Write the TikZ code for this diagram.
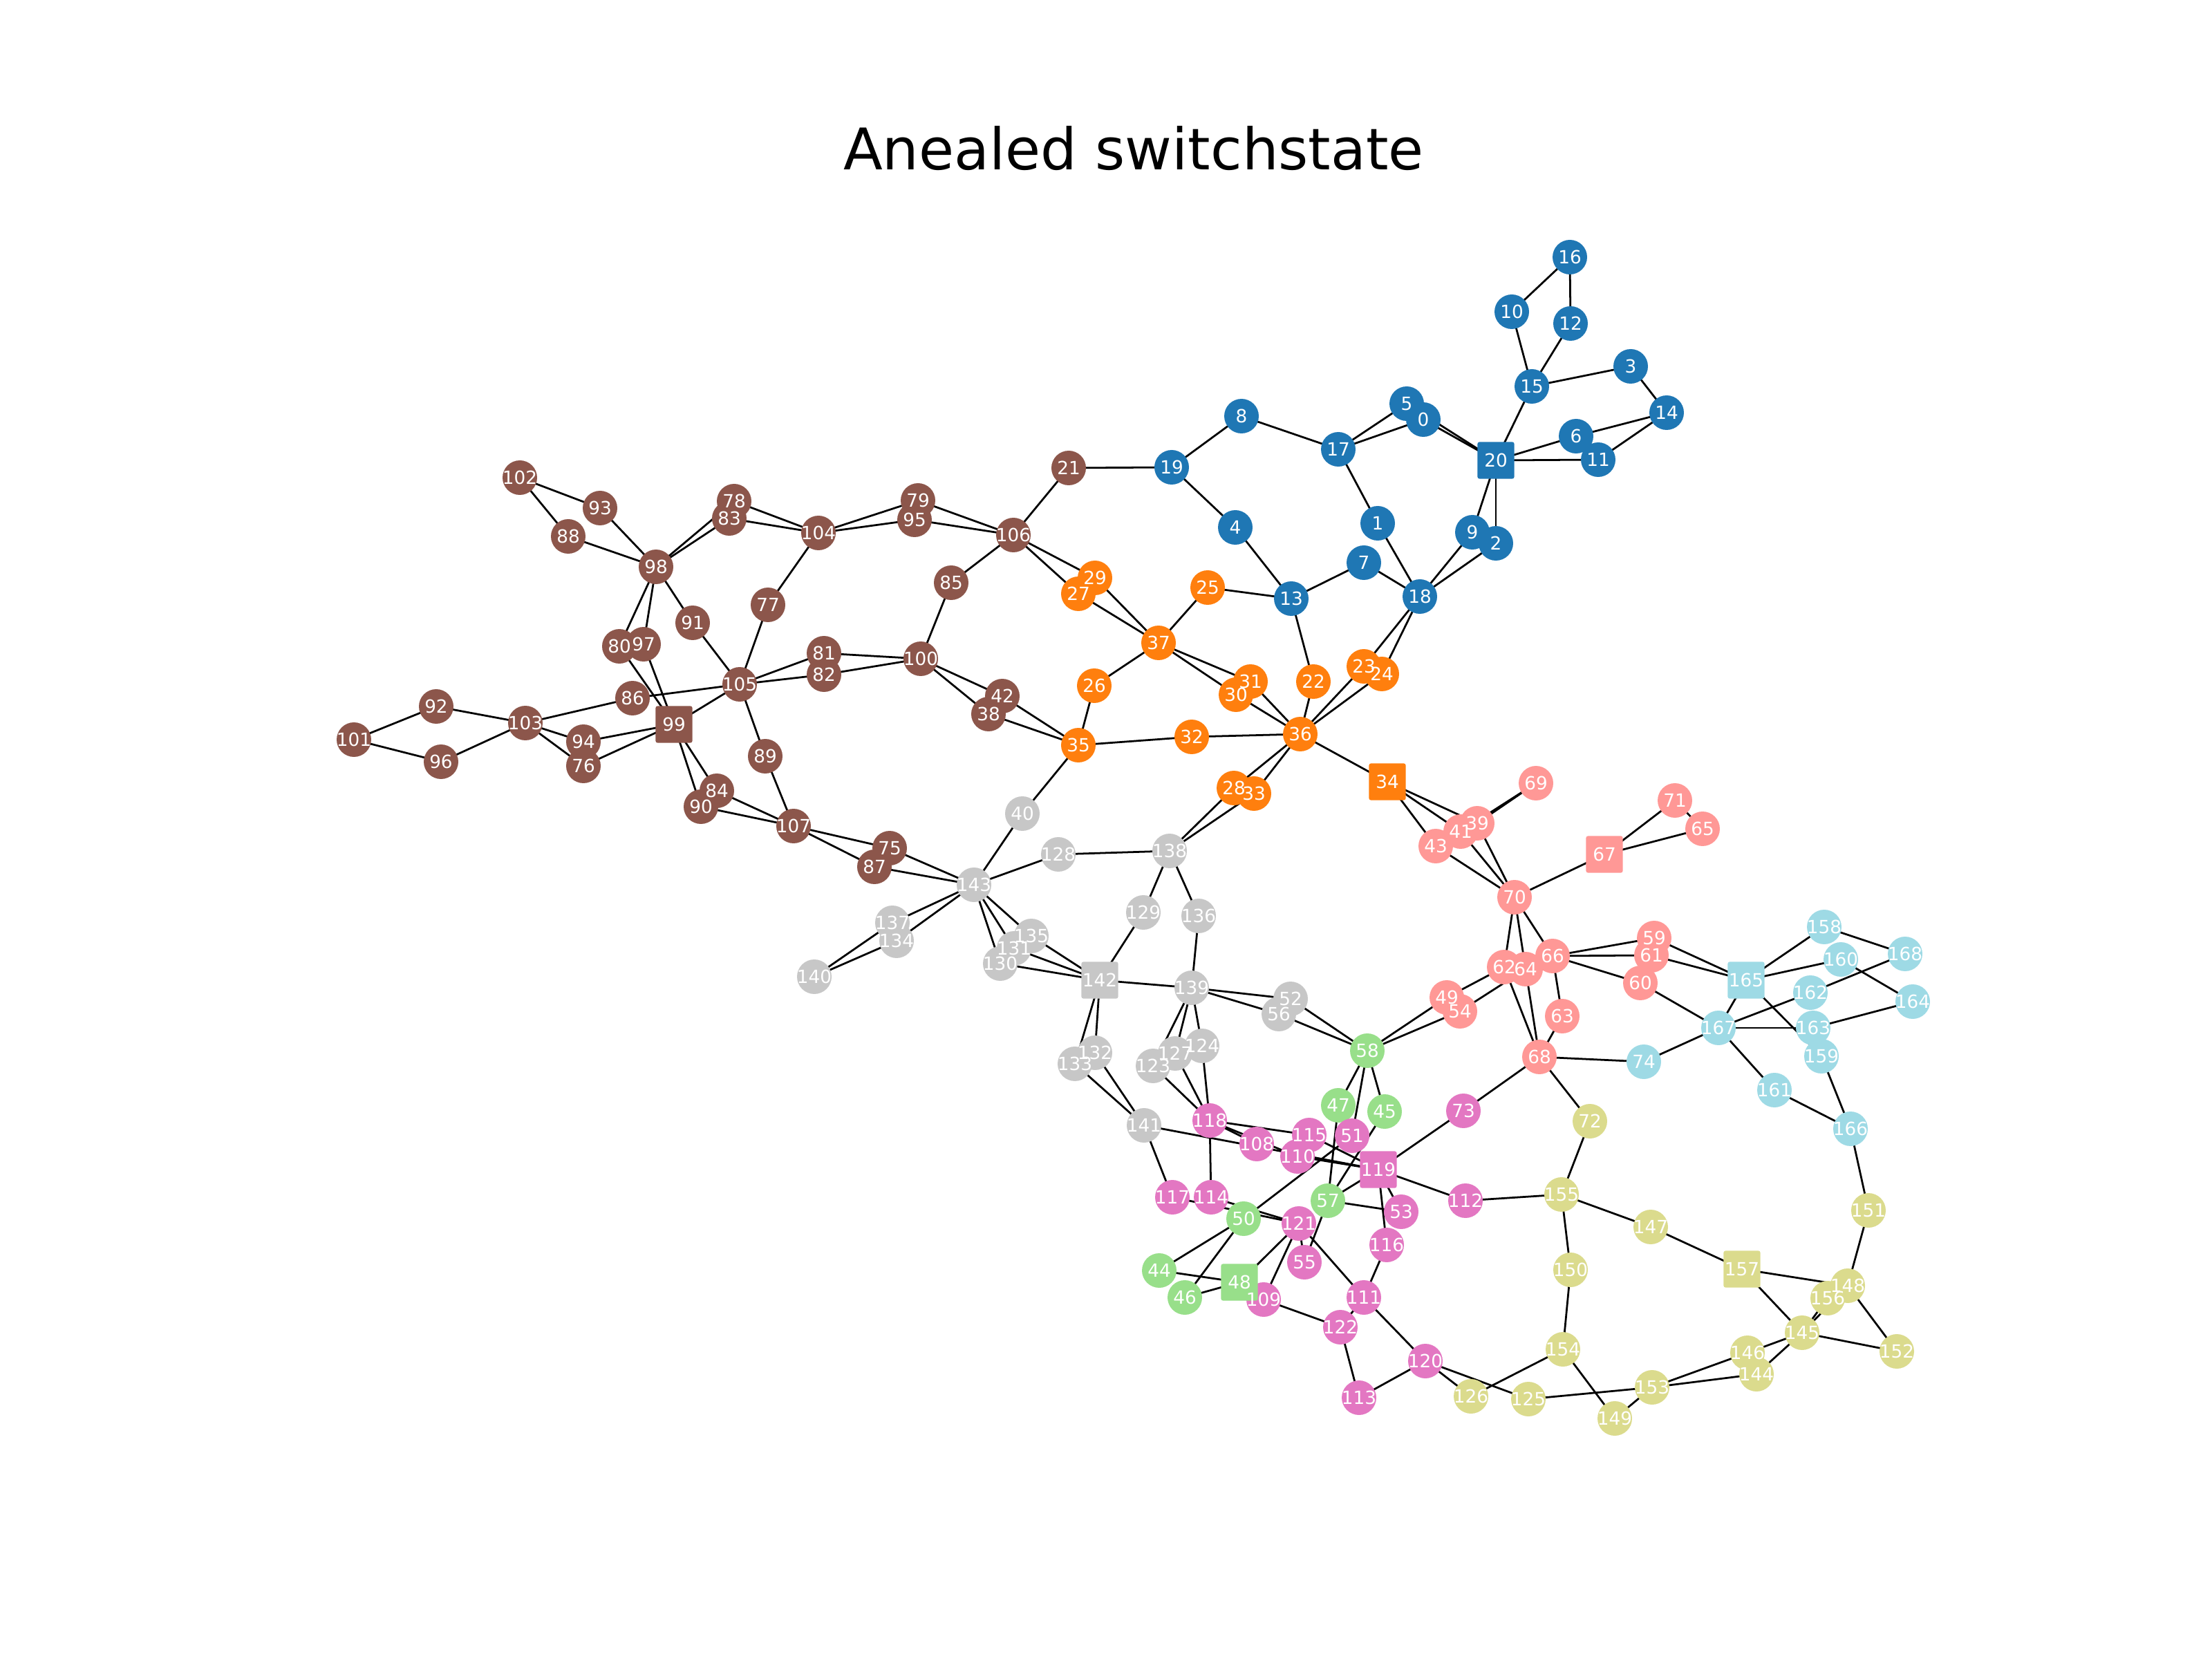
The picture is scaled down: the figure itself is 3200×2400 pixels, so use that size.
\documentclass[tikz,border=0pt]{standalone}
\usepackage{fontspec}
\setmainfont{DejaVu Sans}
\pgfdeclarelayer{edges}
\pgfdeclarelayer{fg}
\pgfsetlayers{edges,main,fg}
\definecolor{bl}{HTML}{1F77B4}
\definecolor{or}{HTML}{FF7F0E}
\definecolor{br}{HTML}{8C564B}
\definecolor{gr}{HTML}{C7C7C7}
\definecolor{sa}{HTML}{FF9896}
\definecolor{gn}{HTML}{98DF8A}
\definecolor{pk}{HTML}{E377C2}
\definecolor{ol}{HTML}{DBDB8D}
\definecolor{lb}{HTML}{9EDAE5}
\tikzset{
  nd/.style={circle, minimum size=0.254cm, inner sep=0pt, draw=none},
  sqnd/.style={rectangle, rounded corners=0.4pt, minimum size=0.27cm, inner sep=0pt, draw=none},
  lab/.style={text=white, inner sep=0pt, font=\fontsize{3.8}{4}\selectfont},
  ed/.style={black, line width=0.4pt},
}
\newcommand\gc[4]{\node[nd,fill=#1] (n#2) at (#3,#4) {};
  \begin{pgfonlayer}{fg}\node[lab] (t#2) at (#3,#4) {#2};\end{pgfonlayer}}
\newcommand\gs[4]{\node[sqnd,fill=#1] (n#2) at (#3,#4) {};
  \begin{pgfonlayer}{fg}\node[lab] (t#2) at (#3,#4) {#2};\end{pgfonlayer}}
\begin{document}
\begin{tikzpicture}[x=0.00508cm, y=-0.00508cm]
\useasboundingbox (0,0) rectangle (3200,2400);
\node[font=\fontsize{12}{14}\selectfont, anchor=base, inner sep=0pt] (title) at (1640,246) {Anealed switchstate};
% blue
\gc{bl}{0}{2059}{607}
\gc{bl}{1}{1993}{757}
\gc{bl}{2}{2164}{786}
\gc{bl}{3}{2359}{530}
\gc{bl}{4}{1787}{763}
\gc{bl}{5}{2035}{584}
\gc{bl}{6}{2280}{631}
\gc{bl}{7}{1973}{814}
\gc{bl}{8}{1796}{602}
\gc{bl}{9}{2130}{770}
\gc{bl}{10}{2187}{451}
\gc{bl}{11}{2312}{665}
\gc{bl}{12}{2272}{468}
\gc{bl}{13}{1868}{866}
\gc{bl}{14}{2411}{597}
\gc{bl}{15}{2216}{559}
\gc{bl}{16}{2271}{372}
\gc{bl}{17}{1936}{650}
\gc{bl}{18}{2054}{863}
\gc{bl}{19}{1695}{676}
% orange
\gc{or}{22}{1900}{986}
\gc{or}{23}{1973}{964}
\gc{or}{24}{1999}{975}
\gc{or}{25}{1747}{850}
\gc{or}{26}{1583}{992}
\gc{or}{27}{1560}{859}
\gc{or}{28}{1785}{1140}
\gc{or}{29}{1584}{836}
\gc{or}{30}{1788}{1005}
\gc{or}{31}{1809}{986}
\gc{or}{32}{1724}{1066}
\gc{or}{33}{1814}{1148}
\gc{or}{35}{1560}{1078}
\gc{or}{36}{1881}{1062}
\gc{or}{37}{1676}{930}
% brown
\gc{br}{21}{1546}{677}
\gc{br}{38}{1430}{1033}
\gc{br}{42}{1450}{1007}
\gc{br}{75}{1287}{1227}
\gc{br}{76}{844}{1108}
\gc{br}{77}{1111}{875}
\gc{br}{78}{1062}{725}
\gc{br}{79}{1328}{724}
\gc{br}{80}{896}{935}
\gc{br}{81}{1192}{945}
\gc{br}{82}{1192}{976}
\gc{br}{83}{1055}{750}
\gc{br}{84}{1037}{1144}
\gc{br}{85}{1376}{843}
\gc{br}{86}{915}{1010}
\gc{br}{87}{1265}{1254}
\gc{br}{88}{822}{776}
\gc{br}{89}{1107}{1094}
\gc{br}{90}{1014}{1167}
\gc{br}{91}{1002}{901}
\gc{br}{92}{631}{1022}
\gc{br}{93}{868}{735}
\gc{br}{94}{844}{1073}
\gc{br}{95}{1323}{752}
\gc{br}{96}{638}{1102}
\gc{br}{97}{931}{932}
\gc{br}{98}{949}{820}
\gc{br}{100}{1332}{953}
\gc{br}{101}{512}{1070}
\gc{br}{102}{752}{691}
\gc{br}{103}{760}{1046}
\gc{br}{104}{1184}{771}
\gc{br}{105}{1070}{990}
\gc{br}{106}{1466}{774}
\gc{br}{107}{1148}{1195}
% gray
\gc{gr}{40}{1479}{1177}
\gc{gr}{52}{1867}{1445}
\gc{gr}{56}{1850}{1467}
\gc{gr}{123}{1668}{1542}
\gc{gr}{124}{1739}{1513}
\gc{gr}{127}{1700}{1524}
\gc{gr}{128}{1531}{1236}
\gc{gr}{129}{1654}{1320}
\gc{gr}{130}{1447}{1394}
\gc{gr}{131}{1467}{1372}
\gc{gr}{132}{1584}{1523}
\gc{gr}{133}{1555}{1539}
\gc{gr}{134}{1297}{1361}
\gc{gr}{135}{1492}{1354}
\gc{gr}{136}{1734}{1325}
\gc{gr}{137}{1291}{1335}
\gc{gr}{138}{1692}{1231}
\gc{gr}{139}{1724}{1429}
\gc{gr}{140}{1178}{1413}
\gc{gr}{141}{1655}{1628}
\gc{gr}{143}{1409}{1280}
% salmon
\gc{sa}{39}{2137}{1191}
\gc{sa}{41}{2113}{1203}
\gc{sa}{43}{2077}{1224}
\gc{sa}{49}{2093}{1443}
\gc{sa}{54}{2112}{1463}
\gc{sa}{59}{2393}{1357}
\gc{sa}{61}{2389}{1382}
\gc{sa}{60}{2373}{1422}
\gc{sa}{62}{2176}{1399}
\gc{sa}{63}{2260}{1470}
\gc{sa}{64}{2207}{1402}
\gc{sa}{65}{2463}{1199}
\gc{sa}{66}{2246}{1383}
\gc{sa}{68}{2227}{1529}
\gc{sa}{69}{2222}{1133}
\gc{sa}{70}{2191}{1298}
\gc{sa}{71}{2423}{1158}
% green
\gc{gn}{44}{1677}{1838}
\gc{gn}{45}{2003}{1608}
\gc{gn}{46}{1714}{1877}
\gc{gn}{47}{1936}{1599}
\gc{gn}{50}{1799}{1763}
\gc{gn}{57}{1921}{1737}
\gc{gn}{58}{1978}{1520}
% pink
\gc{pk}{51}{1956}{1643}
\gc{pk}{53}{2027}{1753}
\gc{pk}{55}{1887}{1826}
\gc{pk}{73}{2117}{1607}
\gc{pk}{108}{1818}{1655}
\gc{pk}{109}{1828}{1880}
\gc{pk}{110}{1877}{1673}
\gc{pk}{111}{1973}{1877}
\gc{pk}{112}{2120}{1737}
\gc{pk}{113}{1966}{2022}
\gc{pk}{114}{1752}{1732}
\gc{pk}{115}{1894}{1642}
\gc{pk}{116}{2006}{1801}
\gc{pk}{117}{1696}{1732}
\gc{pk}{118}{1750}{1621}
\gc{pk}{120}{2062}{1969}
\gc{pk}{121}{1879}{1770}
\gc{pk}{122}{1939}{1920}
% olive
\gc{ol}{72}{2300}{1622}
\gc{ol}{125}{2211}{2024}
\gc{ol}{126}{2128}{2020}
\gc{ol}{144}{2541}{1988}
\gc{ol}{145}{2607}{1928}
\gc{ol}{146}{2528}{1957}
\gc{ol}{147}{2388}{1775}
\gc{ol}{148}{2673}{1860}
\gc{ol}{149}{2336}{2052}
\gc{ol}{150}{2272}{1837}
\gc{ol}{151}{2703}{1751}
\gc{ol}{152}{2744}{1955}
\gc{ol}{153}{2390}{2007}
\gc{ol}{154}{2261}{1952}
\gc{ol}{155}{2259}{1728}
\gc{ol}{156}{2644}{1878}
% light blue
\gc{lb}{74}{2378}{1536}
\gc{lb}{158}{2639}{1341}
\gc{lb}{159}{2635}{1528}
\gc{lb}{160}{2663}{1388}
\gc{lb}{161}{2567}{1577}
\gc{lb}{162}{2619}{1436}
\gc{lb}{163}{2623}{1487}
\gc{lb}{164}{2767}{1449}
\gc{lb}{166}{2677}{1633}
\gc{lb}{167}{2486}{1487}
\gc{lb}{168}{2756}{1380}
% squares
\gs{bl}{20}{2164}{666}
\gs{or}{34}{2007}{1131}
\gs{br}{99}{975}{1048}
\gs{sa}{67}{2321}{1236}
\gs{gr}{142}{1591}{1418}
\gs{pk}{119}{1994}{1692}
\gs{gn}{48}{1793}{1855}
\gs{ol}{157}{2520}{1836}
\gs{lb}{165}{2526}{1418}
\begin{pgfonlayer}{edges}
\foreach \a/\b in {16/10,16/12,10/15,12/15,15/3,3/14,15/20,20/6,20/11,6/14,11/14,20/0,20/5,20/9,20/2,17/5,17/0,8/17,19/8,21/19,19/4,4/13,17/1,1/18,7/18,13/7,9/18,2/18,25/13,13/22,18/23,18/24}
  \draw[ed] (n\a.center) -- (n\b.center);
\foreach \a/\b in {22/36,23/36,24/36,37/25,37/29,37/27,37/26,37/31,37/30,31/36,30/36,32/36,35/32,26/35,36/28,36/33,36/34,35/40,35/42,35/38,106/29,106/27,34/39,34/41,34/43}
  \draw[ed] (n\a.center) -- (n\b.center);
\foreach \a/\b in {102/93,102/88,93/98,88/98,98/78,98/83,98/80,98/97,98/91,91/105,80/99,97/99,86/105,103/86,92/103,101/92,101/96,96/103,103/94,103/76,94/99,76/99,99/105,99/90,99/84,105/77,105/89,105/81,105/82,84/107,90/107,78/104,83/104,104/79,104/95,79/106,95/106,106/21,106/85,104/77,81/100,82/100,85/100,100/42,100/38,89/107,107/75,107/87,75/143,87/143}
  \draw[ed] (n\a.center) -- (n\b.center);
\foreach \a/\b in {40/143,143/128,128/138,138/28,138/33,138/129,138/136,129/142,136/139,143/137,143/134,137/140,134/140,143/135,143/131,143/130,135/142,131/142,130/142,142/139,142/133,142/132,133/141,132/141,139/127,139/123,139/124,127/118,123/118,124/118,141/117,139/52,139/56,52/58,56/58}
  \draw[ed] (n\a.center) -- (n\b.center);
\foreach \a/\b in {39/69,41/69,43/70,41/70,39/70,70/67,67/71,67/65,71/65,70/62,70/64,70/66,66/59,66/61,66/60,66/63,62/49,64/54,58/49,58/54,62/68,64/68,63/68,68/74,68/73,68/72,74/167,60/167,59/165,61/165}
  \draw[ed] (n\a.center) -- (n\b.center);
\foreach \a/\b in {165/158,165/160,165/167,165/159,158/168,160/164,168/162,162/167,167/163,163/164,167/161,161/166,159/166,166/151}
  \draw[ed] (n\a.center) -- (n\b.center);
\foreach \a/\b in {72/155,112/155,155/147,155/150,147/157,150/154,157/148,157/145,145/152,148/152,151/148,146/145,144/145,145/156,145/148,153/146,153/144,153/149,153/125,154/149,154/126,120/126,120/125}
  \draw[ed] (n\a.center) -- (n\b.center);
\foreach \a/\b in {58/47,58/45,58/51,47/57,45/57,50/51,57/119,57/53,57/55,119/53,119/116,119/112,119/73,116/111,114/121,117/121,121/55,121/48,121/109,121/111,50/44,50/46,44/48,46/48,109/122,122/111,111/120,122/113,113/120,118/114,118/115,118/108,141/119,118/110,110/119,115/119}
  \draw[ed] (n\a.center) -- (n\b.center);
\end{pgfonlayer}
\end{tikzpicture}
\end{document}
